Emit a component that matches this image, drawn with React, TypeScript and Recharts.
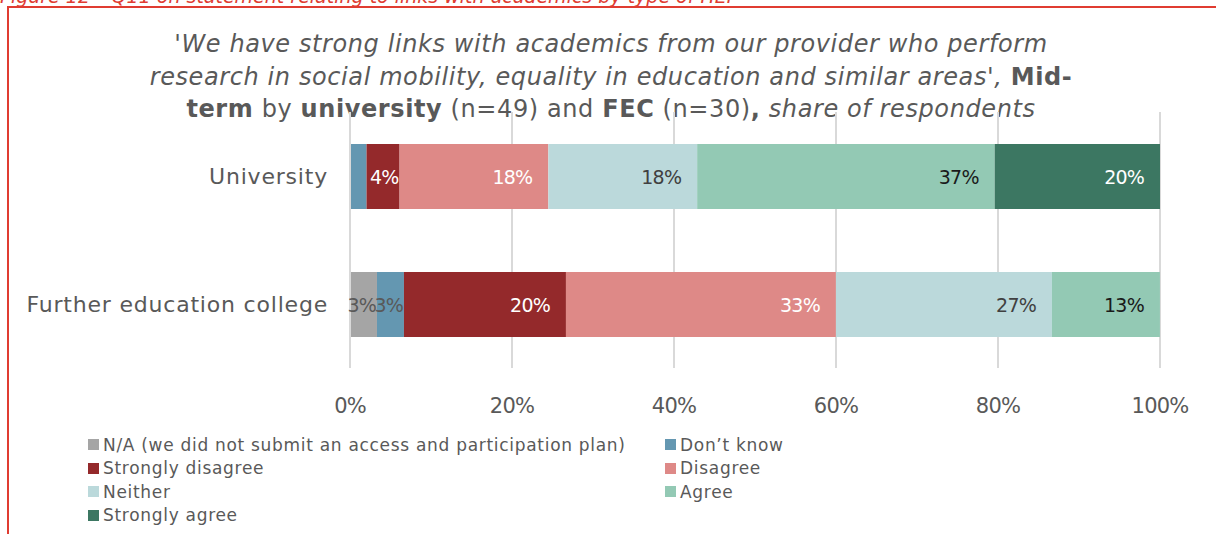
import React from 'react';
import { BarChart, Bar, XAxis, YAxis, CartesianGrid, LabelList } from 'recharts';

const categories = ['University', 'Further education college'];

// share of respondents, % (university n=49, FEC n=30)
const naPlan = [0, 3.33];
const dontKnow = [2.04, 3.33];
const stronglyDisagree = [4.08, 20.0];
const disagree = [18.37, 33.33];
const neither = [18.37, 26.67];
const agree = [36.73, 13.33];
const stronglyAgree = [20.41, 0];

const xTicks = [0, 20, 40, 60, 80, 100];

const SERIES = [
    { key: 'na', name: 'N/A (we did not submit an access and participation plan)', values: naPlan, color: '#A5A5A5', text: '#595959' },
    { key: 'dk', name: 'Don\u2019t know', values: dontKnow, color: '#6497B1', text: '#595959' },
    { key: 'sd', name: 'Strongly disagree', values: stronglyDisagree, color: '#94292B', text: '#FFFFFF' },
    { key: 'd', name: 'Disagree', values: disagree, color: '#DE8987', text: '#FFFFFF' },
    { key: 'n', name: 'Neither', values: neither, color: '#BBD9DB', text: '#404040' },
    { key: 'a', name: 'Agree', values: agree, color: '#93C9B4', text: '#1A1A1A' },
    { key: 'sa', name: 'Strongly agree', values: stronglyAgree, color: '#3C7762', text: '#FFFFFF' },
];

const data = categories.map((cat, i) => {
    const row: Record<string, string | number> = { cat };
    SERIES.forEach((s) => { row[s.key] = s.values[i]; });
    return row;
});

const FONT = '"DejaVu Sans", sans-serif';
const GREY = '#595959';

function makeLabel(color: string) {
    return (props: any) => {
        const { x, y, width, height, value } = props;
        if (!value || width < 20) return null;
        const off = width < 40 ? 1 : 16;
        return (
            <text
                x={x + width - off}
                y={y + height / 2}
                textAnchor="end"
                dominantBaseline="central"
                fill={color}
                fontSize={19}
                fontFamily={FONT}
                letterSpacing={-0.8}
            >
                {Math.round(value)}%
            </text>
        );
    };
}

function LegendBox() {
    return (
        <div
            style={{
                position: 'absolute', left: 88, top: 433, display: 'grid', gridTemplateColumns: '577px 300px',
                fontFamily: FONT, fontSize: 17, letterSpacing: 0.7, color: GREY,
            }}
        >
            {SERIES.map((s) => (
                <div key={s.key} style={{ display: 'flex', alignItems: 'center', height: 23.5, whiteSpace: 'nowrap' }}>
                    <span style={{ width: 11, height: 11, background: s.color, marginRight: 4, display: 'inline-block' }} />
                    {s.name}
                </div>
            ))}
        </div>
    );
}

function CategoryTick(props: any) {
    const { x, y, payload } = props;
    return (
        <text
            x={x + 6}
            y={y}
            textAnchor="end"
            dominantBaseline="central"
            fill={GREY}
            fontSize={22}
            letterSpacing={0.8}
            fontFamily={FONT}
        >
            {payload.value}
        </text>
    );
}

export default function App() {
    return (
        <div style={{ position: 'absolute', left: 0, top: 0, width: 1216, height: 534, background: '#fff', overflow: 'hidden' }}>
            <div
                style={{
                    position: 'absolute', left: 0, top: -15, whiteSpace: 'nowrap', color: '#E03C31',
                    fontFamily: FONT, fontStyle: 'italic', fontSize: 19,
                }}
            >
                Figure 12 – Q11 on statement relating to links with academics by type of HEP
            </div>
            <div style={{ position: 'absolute', left: 7, top: 6, right: 0, height: 2, background: '#E03C31' }} />
            <div style={{ position: 'absolute', left: 7, top: 6, width: 2, bottom: 0, background: '#E03C31' }} />
            <div
                style={{
                    position: 'absolute', left: 111, width: 1000, top: 28, textAlign: 'center',
                    fontFamily: FONT, fontSize: 24, letterSpacing: 0.6, lineHeight: '32.5px', color: GREY,
                }}
            >
                <i>'We have strong links with academics from our provider who perform</i>
                <br />
                <i>research in social mobility, equality in education and similar areas',</i> <b>Mid-</b>
                <br />
                <b>term</b> by <b>university</b> (n=49) and <b>FEC</b> (n=30)<b>,</b> <i>share of respondents</i>
            </div>
            <BarChart
                width={1216}
                height={534}
                data={data}
                layout="vertical"
                barSize={65}
                margin={{ top: 112, right: 56, bottom: 116, left: 0 }}
                style={{ position: 'absolute', left: 0, top: 0 }}
            >
                <CartesianGrid horizontal={false} stroke="#D9D9D9" strokeWidth={2} />
                <XAxis
                    type="number"
                    domain={[0, 100]}
                    ticks={xTicks}
                    tickFormatter={(v: number) => `${v}%`}
                    axisLine={false}
                    tickLine={false}
                    tickMargin={24}
                    tick={{ fill: GREY, fontSize: 21, fontFamily: FONT, letterSpacing: -0.8 }}
                    height={50}
                />
                <YAxis
                    type="category"
                    dataKey="cat"
                    width={350}
                    axisLine={{ stroke: '#D9D9D9', strokeWidth: 2 }}
                    tickLine={false}
                    tickMargin={22}
                    tick={<CategoryTick />}
                />
                {SERIES.map((s) => (
                    <Bar key={s.key} dataKey={s.key} name={s.name} stackId="a" fill={s.color} isAnimationActive={false}>
                        <LabelList dataKey={s.key} content={makeLabel(s.text)} />
                    </Bar>
                ))}
            </BarChart>
            <LegendBox />
        </div>
    );
}
